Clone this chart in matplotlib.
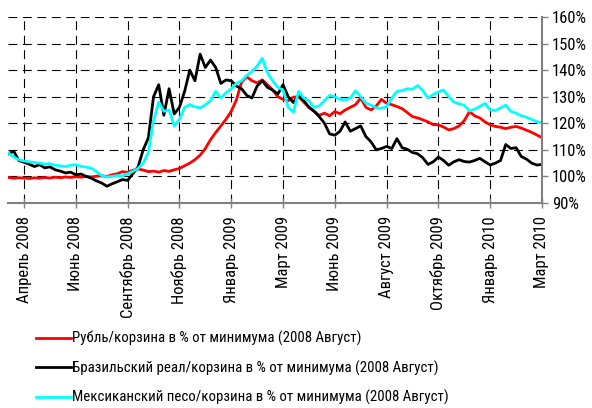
import numpy as np
import matplotlib
matplotlib.use("Agg")
import matplotlib.pyplot as plt
from matplotlib.ticker import FuncFormatter

plt.rcParams['font.family'] = ['Roboto Condensed', 'DejaVu Sans']

# tick labels on a category axis, one label every 10 points
month_labels = ["Апрель 2008", "Июнь 2008", "Сентябрь 2008", "Ноябрь 2008", "Январь 2009",
                "Март 2009", "Июнь 2009", "Август 2009", "Октябрь 2009", "Январь 2010", "Март 2010"]

# values, % of the August 2008 minimum, starting 3 points before the first label
rub = [99.6, 99.3, 99.5, 99.4, 99.2, 99.5, 99.3, 99.6, 99.4, 99.7, 99.5, 99.8, 99.6, 99.9, 99.7, 100.0, 99.8, 100.1,
       100.2, 100.0, 100.6, 101.0, 101.8, 101.5, 102.3, 102.8, 102.4, 101.8, 102.0, 101.6, 102.2, 101.9, 102.5,
       103.0, 104.0, 105.0, 106.3, 108.0, 110.5, 113.8, 116.5, 119.0, 121.5, 124.5, 128.8, 135.5, 137.5, 136.0,
       135.2, 136.3, 134.5, 132.5, 130.0, 129.0, 128.5, 129.8, 130.0, 128.0, 126.0, 124.5, 123.0, 123.8, 122.8,
       124.4, 123.6, 125.0, 126.0, 127.0, 129.5, 126.0, 125.0, 126.5, 129.0, 127.5, 127.0, 126.3, 125.5, 124.0,
       122.5, 122.0, 121.3, 120.5, 119.5, 119.4, 118.6, 117.5, 118.0, 119.0, 121.0, 124.4, 122.8, 122.0, 120.5,
       119.4, 118.8, 118.5, 118.0, 118.5, 118.8, 118.2, 117.4, 116.6, 115.6, 114.6]

brl = [108.5, 109.5, 106.0, 105.3, 104.6, 103.7, 104.4, 103.2, 103.6, 102.5, 102.0, 101.3, 101.6, 100.6, 100.9,
       100.0, 99.3, 98.3, 97.5, 96.3, 97.2, 98.0, 98.8, 98.5, 101.0, 103.5, 110.0, 114.5, 130.0, 134.5, 123.0,
       133.0, 123.5, 126.0, 132.0, 140.0, 136.0, 146.0, 141.0, 143.8, 141.0, 135.0, 136.3, 136.0, 134.0, 133.0,
       130.5, 129.5, 134.0, 136.0, 133.5, 132.5, 131.0, 134.5, 130.0, 127.8, 130.5, 128.5, 126.0, 124.5, 122.5,
       120.0, 116.0, 115.5, 117.0, 120.5, 117.0, 118.0, 119.0, 115.0, 113.0, 110.0, 110.5, 111.3, 110.5, 114.2,
       110.8, 110.2, 109.0, 108.5, 107.0, 104.5, 105.5, 107.3, 106.0, 104.2, 105.5, 106.3, 105.6, 105.4, 106.0,
       106.8, 105.5, 104.3, 105.0, 106.0, 112.0, 110.5, 110.8, 107.5, 106.5, 105.0, 104.3, 104.5]

mxn = [108.8, 107.3, 106.3, 105.8, 105.5, 105.2, 105.0, 104.6, 104.8, 104.2, 104.0, 103.7, 104.2, 104.4, 103.8,
       103.5, 103.1, 101.8, 100.3, 99.8, 100.0, 100.3, 100.2, 101.0, 101.9, 103.0, 105.0, 109.0, 121.0, 128.0,
       124.5, 125.0, 119.0, 121.5, 126.0, 127.0, 126.2, 125.8, 126.9, 128.5, 132.0, 129.5, 131.5, 133.0, 135.0,
       136.0, 138.0, 139.5, 141.5, 144.5, 139.0, 136.0, 133.5, 132.5, 126.0, 124.2, 132.0, 129.5, 128.5, 126.0,
       126.5, 128.5, 130.5, 130.0, 129.0, 128.8, 129.5, 132.2, 130.0, 127.6, 126.8, 125.8, 125.6, 126.3, 129.5,
       132.0, 132.3, 133.0, 132.8, 134.2, 132.3, 129.5, 130.8, 131.8, 132.5, 130.0, 128.0, 127.3, 126.8, 124.6,
       125.3, 126.3, 127.5, 125.0, 124.8, 125.8, 126.8, 124.5, 123.8, 122.8, 122.3, 121.4, 120.6, 120.2]

labels = ["Рубль/корзина в % от минимума (2008 Август)",
          "Бразильский реал/корзина в % от минимума (2008 Август)",
          "Мексиканский песо/корзина в % от минимума (2008 Август)"]

x = np.arange(len(rub)) - 3

fig = plt.figure(figsize=(5.92, 4.08), dpi=100)
ax = fig.add_axes([0.0135, 0.5025, 0.902, 0.4559])

l1, = ax.plot(x, rub, color="#ff0000", lw=2.0, zorder=3)
l2, = ax.plot(x, brl, color="black", lw=2.0, zorder=4)
l3, = ax.plot(x, mxn, color="#00ffff", lw=2.0, zorder=5)

ax.set_xlim(-3.1, 100)
ax.set_ylim(90, 160)
ax.set_xticks(np.arange(0, 101, 10))
ax.set_xticklabels(month_labels, rotation=90, fontsize=12)
ax.set_yticks(np.arange(90, 161, 10))
ax.yaxis.set_major_formatter(FuncFormatter(lambda v, p: f"{v:.0f}%"))
ax.yaxis.tick_right()
ax.tick_params(axis='y', labelsize=12, direction='out', length=4, width=1, color="#808080", pad=3)
ax.tick_params(axis='x', direction='inout', length=7, width=1, color="#808080", pad=6)

ax.grid(True, color="black", linestyle=(0, (8, 5)), linewidth=0.8)
ax.set_axisbelow(True)

for s in ["top", "left"]:
    ax.spines[s].set_visible(False)
for s in ["bottom", "right"]:
    ax.spines[s].set_color("#808080")
    ax.spines[s].set_linewidth(1.5)
    ax.spines[s].set_zorder(6)

fig.legend([l1, l2, l3], labels, loc="upper left", bbox_to_anchor=(36 / 592, 1 - 331 / 408),
           frameon=False, fontsize=10.7, handlelength=2.35, handletextpad=0.1, labelspacing=0.95,
           borderpad=0, borderaxespad=0)

fig.savefig("out.png", dpi=100)
